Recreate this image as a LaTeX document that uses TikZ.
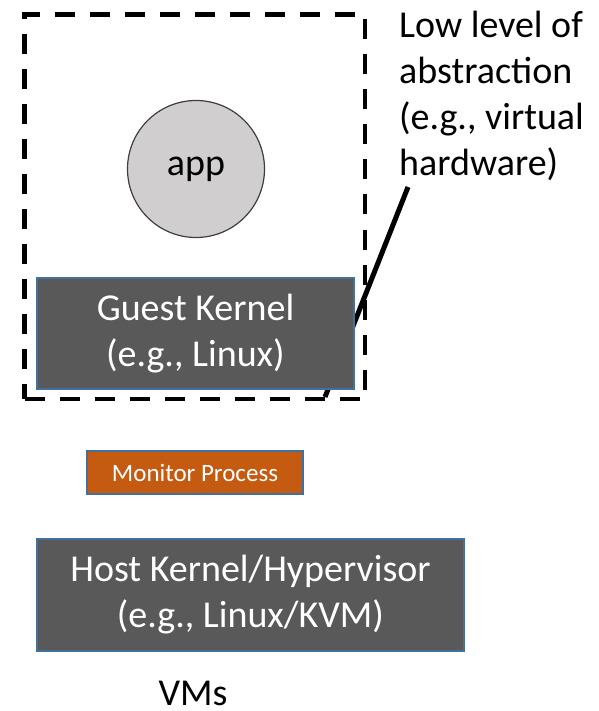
\documentclass[tikz,border=0pt]{standalone}
\usepackage{fontspec}
\setmainfont{Carlito}
\definecolor{kernelgray}{HTML}{595959}
\definecolor{boxblue}{HTML}{41719C}
\definecolor{appgray}{HTML}{D0CECE}
\definecolor{monitororange}{HTML}{C55A11}
\begin{document}
\begin{tikzpicture}[x=1pt,y=-1pt,
  every node/.style={inner sep=0pt,align=center,font=\fontsize{38}{46}\selectfont},
  kernel/.style={draw=boxblue,line width=1.5pt,fill=kernelgray,text=white},
  vmbox/.style={draw,line width=4.5pt,dash pattern=on 20pt off 15pt},
  callout/.style={line width=5pt}]
  \useasboundingbox (0,0) rectangle (598,711);
  \node[vmbox,minimum width=340.5pt,minimum height=384.5pt] (vm) at (194.75,206.75) {};
  \node[draw=kernelgray!70!black,line width=1.2pt,fill=appgray,circle,minimum size=137pt] (app) at (196,169) {app};
  \node[anchor=north west,align=left] (note) at (399,11) {Low level of\\abstraction\\(e.g., virtual\\hardware)};
  \coordinate (tip) at (325,397);
  \coordinate (tail) at (408,187);
  \draw[callout] (tail) -- (tip);
  \node[kernel,minimum width=317pt,minimum height=111pt] (guest) at (195.5,333.5) {Guest Kernel\\(e.g., Linux)};
  \node[kernel,fill=monitororange,minimum width=216pt,minimum height=43pt,font=\fontsize{25}{30}\selectfont] (monitor) at (195,472.5) {Monitor Process};
  \node[kernel,minimum width=427pt,minimum height=112pt] (host) at (250.5,595) {Host Kernel/Hypervisor\\(e.g., Linux/KVM)};
  \node[anchor=base] (vms) at (193,705) {VMs};
\end{tikzpicture}
\end{document}
